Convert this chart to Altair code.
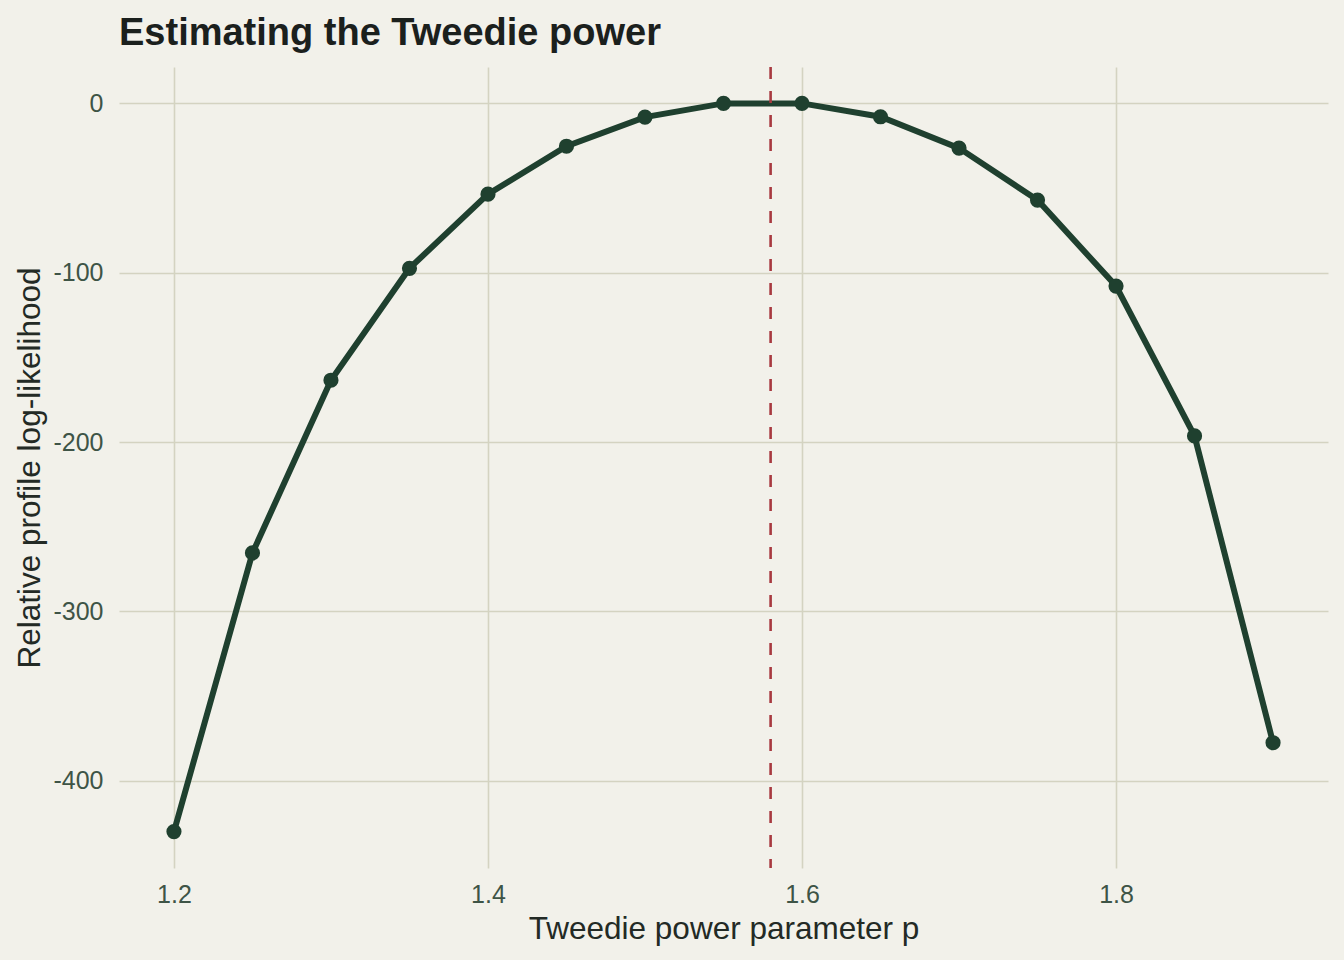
import altair as alt
import pandas as pd

# Data
p_values = [1.2, 1.25, 1.3, 1.35, 1.4, 1.45, 1.5, 1.55, 1.6, 1.65, 1.7, 1.75, 1.8, 1.85, 1.9]
rel_loglik = [-430.1, -265.5, -163.5, -97.4, -53.6, -25.3, -8.1, 0.0, 0.0, -7.9, -26.4, -57.1, -107.9, -196.4, -377.6]
p_hat = [1.58]
x_ticks = [1.2, 1.4, 1.6, 1.8]
y_ticks = [0, -100, -200, -300, -400]

df = pd.DataFrame({"p": p_values, "ll": rel_loglik})
df_hat = pd.DataFrame({"p": p_hat})

FONT = "Liberation Sans"
x_scale = alt.Scale(domain=[1.165, 1.935], nice=False, zero=False)
y_scale = alt.Scale(domain=[-451.6, 21.5], nice=False, zero=False)

x_enc = alt.X("p:Q", scale=x_scale,
              axis=alt.Axis(values=x_ticks, format=".1f", title="Tweedie power parameter p",
                            labelPadding=14, titlePadding=6))
y_enc = alt.Y("ll:Q", scale=y_scale,
              axis=alt.Axis(values=y_ticks, labelExpr="'' + datum.value",
                            title="Relative profile log-likelihood",
                            labelPadding=16, titlePadding=6))

line = alt.Chart(df).mark_line(color="#1F402F", strokeWidth=6).encode(x=x_enc, y=y_enc)
pts = alt.Chart(df).mark_circle(color="#1F402F", size=230, opacity=1).encode(x="p:Q", y="ll:Q")
rule = alt.Chart(df_hat).mark_rule(color="#A83A40", strokeWidth=2.6, strokeDash=[12, 12]).encode(x="p:Q")

chart = alt.layer(line, pts, rule).properties(
    width=1209, height=801,
    autosize=alt.AutoSizeParams(type="none"),
    padding={"left": 119, "top": 67, "right": 16, "bottom": 92},
    background="#F2F1EA",
    title=alt.TitleParams("Estimating the Tweedie power", anchor="start", frame="group", font=FONT,
                          fontSize=38, fontWeight="bold", color="#1B201D", offset=13),
).configure_view(stroke=None).configure_axis(
    labelFont=FONT, labelFontSize=25, labelColor="#3E5446",
    titleFont=FONT, titleFontSize=31.5, titleColor="#232A25", titleFontWeight="normal",
    gridColor="#D4D3C1", gridWidth=1.6, domain=False, ticks=False,
)

chart.save("out.html", embed_options={"renderer": "svg", "actions": False})
